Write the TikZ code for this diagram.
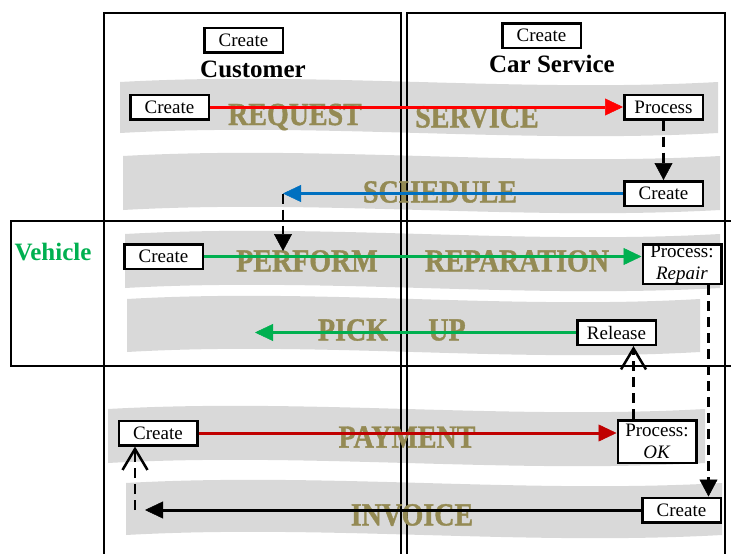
\documentclass[tikz,border=0pt]{standalone}
\usepackage{fontspec}
\usepackage{graphicx}
\setmainfont{Liberation Serif}
\newfontfamily\lanefont{Liberation Serif}[UprightFont={* Bold}, UprightFeatures={FakeBold=1.2}]
\usetikzlibrary{arrows.meta,calc}
\definecolor{bandgray}{HTML}{D9D9D9}
\definecolor{labelolive}{HTML}{948A54}
\definecolor{flowred}{HTML}{FF0000}
\definecolor{flowblue}{HTML}{0070C0}
\definecolor{flowgreen}{HTML}{00B050}
\definecolor{flowdarkred}{HTML}{C00000}
% wavy grey lane: left x, right x, top y, bottom y
\newcommand\waveband[4]{%
  \fill[bandgray] (#1,#3) .. controls ({#1+(#2-#1)/3},{#3-11}) and ({#1+2*(#2-#1)/3},{#3+11}) .. (#2,#3)
    -- (#2,#4) .. controls ({#1+2*(#2-#1)/3},{#4+11}) and ({#1+(#2-#1)/3},{#4-11}) .. (#1,#4) -- cycle;}
% tall lettering of the lane names
\newcommand\lanetext[1]{\scalebox{1}[1.15]{#1}}
\tikzset{
  box/.style={draw=black, line width=2.5pt, fill=white, inner sep=0pt,
    minimum width=78.5pt, minimum height=24.5pt, font=\fontsize{19}{21}\selectfont},
  tallbox/.style={box, align=center},
  frame/.style={line width=2pt},
  flow/.style={line width=3pt, -{Triangle[length=18pt,width=17pt,line width=0.5pt]}},
  link/.style={line width=2.5pt, dash pattern=on 10pt off 6pt},
  linkfilled/.style={link, -{Triangle[length=17pt,width=18pt,line width=0.5pt]}},
  linkopen/.style={link, -{Straight Barb[length=21pt,width=25pt,line width=2.5pt]}},
  lane/.style={text=labelolive, font=\fontsize{28}{30}\selectfont\lanefont, inner sep=0pt},
  head/.style={font=\fontsize{25}{27}\selectfont\bfseries, inner sep=0pt}
}
\begin{document}
\begin{tikzpicture}[x=1pt,y=-1pt]
\useasboundingbox (0,0) rectangle (731,554);

% lanes
\waveband{120}{718}{82}{133}
\waveband{123}{720}{156}{210}
\waveband{125}{720}{234}{288}
\waveband{127}{700}{299}{352}
\waveband{108}{705}{409}{463}
\waveband{126}{722}{483}{535}

% pools
\draw[frame] (104,554) -- (104,13) -- (401,13) -- (401,554);
\draw[frame] (407,554) -- (407,13) -- (725,13) -- (725,554);
\draw[frame] (731,221) -- (11,221) -- (11,366) -- (731,366);

% headers
\node[box] (hcust) at (243.5,40) {Create};
\node[head] (custname) at (253,69) {Customer};
\node[box] (hsvc) at (541.5,35.5) {Create};
\node[head] (svcname) at (552,64) {Car Service};
\node[head, text=flowgreen] (vehname) at (53,252) {Vehicle};

% lane labels
\node[lane] (lreq) at (295,117) {\lanetext{REQUEST}};
\node[lane] (lsvc) at (477,117) {\lanetext{SERVICE}};
\node[lane] (lsch) at (440,192) {\lanetext{SCHEDULE}};
\node[lane] (lperf) at (307,261) {\lanetext{PERFORM}};
\node[lane] (lrep) at (517,261) {\lanetext{REPARATION}};
\node[lane] (lpick) at (353,330) {\lanetext{PICK}};
\node[lane] (lup) at (447,330) {\lanetext{UP}};
\node[lane] (lpay) at (407,437) {\lanetext{PAYMENT}};
\node[lane] (linv) at (412,515) {\lanetext{INVOICE}};

% activities
\node[box] (reqcreate) at (169.5,107) {Create};
\node[box] (reqproc) at (663.5,107) {Process};
\node[box] (schcreate) at (663.5,193.5) {Create};
\node[box] (repcreate) at (163.5,256.5) {Create};
\node[tallbox, minimum height=39.5pt] (repproc) at (682,264) {Process:\\[1pt]\textit{Repair}};
\node[box] (release) at (616.5,332.5) {Release};
\node[box] (paycreate) at (158,433) {Create};
\node[tallbox, minimum height=42.5pt] (payok) at (657,441.5) {Process:\\[1pt]\textit{OK}};
\node[box] (invcreate) at (681.5,510) {Create};

% message flows
\draw[flow, flowred] (reqcreate.east) -- (reqproc.west);
\coordinate (schend) at (283,193.5);
\draw[flow, flowblue] (schcreate.west) -- (schend);
\draw[flow, flowgreen] (repcreate.east) -- (repcreate.east -| repproc.west);
\coordinate (pickend) at (255,332.5);
\draw[flow, flowgreen] (release.west) -- (pickend);
\draw[flow, flowdarkred] (paycreate.east) -- (paycreate.east -| payok.west);
\coordinate (invend) at (145,510);
\draw[flow, black] (invcreate.west) -- (invend);

% sequence links
\draw[linkfilled] (reqproc.south) -- (schcreate.north);
\coordinate (perfmark) at (283,251);
\draw[linkfilled] (schend) -- (perfmark);
\coordinate (drop) at (708.5,285);
\draw[linkfilled] (drop) -- (drop |- invcreate.north);
\coordinate (okup) at (633.5,420);
\draw[linkopen] (okup |- payok.north) -- (okup |- release.south);
\coordinate (invback) at (135,510);
\draw[linkopen] (invback) -- (invback |- paycreate.south);
\end{tikzpicture}
\end{document}
